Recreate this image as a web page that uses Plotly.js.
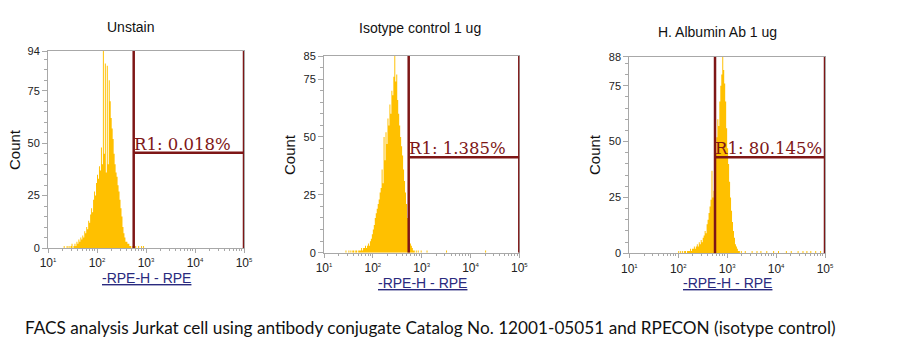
<!DOCTYPE html>
<html>
<head>
<meta charset="utf-8">
<script src="https://cdn.plot.ly/plotly-3.0.1.min.js"></script>
<style>
html,body{margin:0;padding:0;background:#fff;}
#chart{width:909px;height:361px;}
</style>
</head>
<body>
<div id="chart"></div>
<script>
// ---------- DATA ----------
const panelTitles = ['Unstain', 'Isotype control 1 ug', 'H. Albumin Ab 1 ug'];
const gateLabels = ['R1: 0.018%', 'R1: 1.385%', 'R1: 80.145%'];
const yMax = [94, 85, 88];
const yTickVals = [0, 25, 50, 75];
const xTickVals = [10, 100, 1000, 10000, 100000];
const xTickExp = ['1', '2', '3', '4', '5'];
const xAxisLabel = '-RPE-H - RPE';
const yAxisLabel = 'Count';
const caption = 'FACS analysis Jurkat cell using antibody conjugate Catalog No. 12001-05051 and RPECON (isotype control)';

// gate: lower bound, upper bound (RPE-H intensity) and marker height (count)
const gateLow = [561, 543, 565];
const gateHigh = [100000, 100000, 100000];
const gateY = [45.5, 41.2, 43];

// histogram channels: log10 bin width and starting log10 value per panel
const binStepLog = 0.02;
const p1StartLog = 1.30;
const p1Counts = [0,1,0,0,1,0,1,0,1,2, 0,1,2,1,3,2,4,3,5,4,
                  6,5,8,7,10,9,13,12,16,19, 17,23,27,25,31,35,33,39,37,48,
                  40,94,45,88,36,87,40,80,70,62, 57,52,45,40,36,34,30,27,23,19,
                  15,10,7,5,3,3,2,2,1,1, 0,1,0,0,1,0,0,1,0,0, 1];
const p1TailLog = [2.94];
const p1TailCounts = [1];

const p2StartLog = 1.40;
const p2Counts = [0,0,1,0,0,1,0,1,0,1, 1,0,1,1,0,1,1,1,2,1,
                  2,2,3,2,3,4,3,5,6,8, 10,12,15,17,19,21,23,26,28,36,
                  30,50,40,52,47,58,55,64,60,70, 68,76,85,74,77,66,60,55,50,46,
                  42,36,31,26,21,15,10,6,4,3, 2,1,1,0,1,0,1,0,0,1, 0];
const p2TailLog = [3.10, 3.50, 4.30];
const p2TailCounts = [1, 1, 1];

const p3StartLog = 2.00;
const p3Counts = [1,0,1,0,1,0,1,1,0,1, 1,1,2,1,2,2,3,2,3,4,
                  3,5,4,6,5,7,8,10,9,13, 15,18,21,24,37,25,28,34,45,52,
                  60,57,68,75,80,88,82,76,68,56, 47,40,32,25,19,14,10,7,4,3,
                  2,1,1,0,1,0];
const p3TailLog = [3.36, 3.50, 3.60, 3.68, 3.80, 3.94, 4.04, 4.20, 4.30, 4.44, 4.54, 4.62, 4.70, 4.80, 4.90];
const p3TailCounts = [1, 1, 1, 1, 1, 1, 1, 1, 1, 1, 1, 1, 1, 1, 1];

const panels = [
  {start: p1StartLog, counts: p1Counts, tailLog: p1TailLog, tailCounts: p1TailCounts},
  {start: p2StartLog, counts: p2Counts, tailLog: p2TailLog, tailCounts: p2TailCounts},
  {start: p3StartLog, counts: p3Counts, tailLog: p3TailLog, tailCounts: p3TailCounts}
];

// ---------- LAYOUT GEOMETRY (pixels in 909x361) ----------
const W = 909, H = 361;
const plotBoxes = [
  {x0: 48, x1: 244, y0: 51, y1: 248},
  {x0: 324, x1: 519.3, y0: 56, y1: 252.7},
  {x0: 629.3, x1: 825, y0: 56.7, y1: 253.3}
];
const titlePos = [{x: 130, y: 27}, {x: 420, y: 28}, {x: 717, y: 32}];
const countPos = [{x: 14, y: 150}, {x: 289, y: 155}, {x: 594, y: 155}];
const xlabPos = [{x: 146, y: 278}, {x: 422, y: 283}, {x: 727, y: 283}];

const gold = '#FFC000';
const gateColor = '#7E1616';
const axisGray = '#A8A8A8';

function buildHist(p) {
  const nBins = Math.round(4 / binStepLog);
  const grid = new Array(nBins).fill(0);
  const off = Math.round((p.start - 1) / binStepLog);
  p.counts.forEach((c, i) => { if (off + i < nBins) grid[off + i] = c; });
  p.tailLog.forEach((l, i) => {
    const k = Math.round((l - 1) / binStepLog);
    if (k < nBins) grid[k] = p.tailCounts[i];
  });
  const xs = [], ys = [];
  for (let k = 0; k < nBins; k++) {
    xs.push(Math.pow(10, 1 + k * binStepLog));
    ys.push(grid[k]);
  }
  xs.push(Math.pow(10, 5));
  ys.push(0);
  return {xs, ys};
}

const traces = [];
const layout = {
  width: W, height: H, autosize: false,
  margin: {l: 0, r: 0, t: 0, b: 0, pad: 0},
  paper_bgcolor: '#fff', plot_bgcolor: '#fff',
  showlegend: false,
  shapes: [], annotations: []
};

const minorVals = [];
for (let d = 1; d <= 4; d++) for (let m = 2; m <= 9; m++) minorVals.push(m * Math.pow(10, d));
const xTickText = xTickExp.map(e => '10<sup><span style="font-size:6px">' + e + '</span></sup>');

panels.forEach((p, i) => {
  const n = i + 1;
  const xa = 'xaxis' + (n === 1 ? '' : n);
  const ya = 'yaxis' + (n === 1 ? '' : n);
  const xr = 'x' + (n === 1 ? '' : n);
  const yr = 'y' + (n === 1 ? '' : n);
  const b = plotBoxes[i];
  const h = buildHist(p);
  traces.push({
    type: 'scatter', mode: 'lines', x: h.xs, y: h.ys,
    xaxis: xr, yaxis: yr,
    line: {shape: 'hv', width: 0, color: gold},
    fill: 'tozeroy', fillcolor: gold, hoverinfo: 'skip'
  });
  layout[xa] = {
    domain: [b.x0 / W, b.x1 / W], anchor: yr,
    type: 'log', range: [1, 5],
    tickmode: 'array', tickvals: xTickVals, ticktext: xTickText,
    ticks: 'outside', ticklen: 4, tickcolor: axisGray, tickwidth: 1,
    minor: {tickmode: 'array', tickvals: minorVals, ticks: 'outside', ticklen: 2, tickcolor: axisGray},
    showline: true, linecolor: axisGray, linewidth: 1, mirror: true,
    showgrid: false, zeroline: false,
    tickfont: {family: 'Liberation Sans, Arial, sans-serif', size: 12, color: '#222'},
    fixedrange: true
  };
  layout[ya] = {
    domain: [1 - b.y1 / H, 1 - b.y0 / H], anchor: xr,
    range: [0, yMax[i]],
    tickmode: 'array', tickvals: yTickVals.concat([yMax[i]]),
    ticktext: yTickVals.concat([yMax[i]]).map(String),
    ticks: 'outside', ticklen: 5, tickcolor: axisGray, tickwidth: 1,
    minor: {dtick: 5, ticks: 'outside', ticklen: 3, tickcolor: axisGray},
    showline: true, linecolor: axisGray, linewidth: 1, mirror: true,
    showgrid: false, zeroline: false,
    tickfont: {family: 'Liberation Sans, Arial, sans-serif', size: 11, color: '#222'},
    fixedrange: true
  };
  // gate
  const gs = {type: 'line', xref: xr, yref: yr, line: {color: gateColor, width: 2.5}};
  layout.shapes.push(Object.assign({}, gs, {x0: gateLow[i], x1: gateLow[i], y0: 0, y1: yMax[i]}));
  layout.shapes.push(Object.assign({}, gs, {x0: gateHigh[i], x1: gateHigh[i], y0: 0, y1: yMax[i]}));
  layout.shapes.push(Object.assign({}, gs, {x0: gateLow[i], x1: gateHigh[i], y0: gateY[i], y1: gateY[i]}));
  layout.annotations.push({
    xref: xr, yref: yr, x: Math.log10(gateLow[i]), y: gateY[i],
    xanchor: 'left', yanchor: 'bottom', showarrow: false, xshift: -2, yshift: -3,
    text: gateLabels[i],
    font: {family: 'DejaVu Serif, Georgia, serif', size: 16.5, color: gateColor}
  });
  // titles & labels
  layout.annotations.push({
    xref: 'paper', yref: 'paper', x: titlePos[i].x / W, y: 1 - titlePos[i].y / H,
    xanchor: 'center', yanchor: 'middle', showarrow: false, text: panelTitles[i],
    font: {family: 'Liberation Sans, Arial, sans-serif', size: 14, color: '#111'}
  });
  layout.annotations.push({
    xref: 'paper', yref: 'paper', x: countPos[i].x / W, y: 1 - countPos[i].y / H,
    xanchor: 'center', yanchor: 'middle', showarrow: false, text: yAxisLabel, textangle: -90,
    font: {family: 'Liberation Sans, Arial, sans-serif', size: 15, color: '#111'}
  });
  layout.annotations.push({
    xref: 'paper', yref: 'paper', x: xlabPos[i].x / W, y: 1 - xlabPos[i].y / H,
    xanchor: 'center', yanchor: 'middle', showarrow: false, text: xAxisLabel,
    font: {family: 'Liberation Sans, Arial, sans-serif', size: 14, color: '#2A2A7E', lineposition: 'under'}
  });
});

layout.annotations.push({
  xref: 'paper', yref: 'paper', x: 23 / W, y: 1 - 327 / H,
  xanchor: 'left', yanchor: 'middle', showarrow: false, text: caption,
  font: {family: 'Lato, Open Sans, sans-serif', size: 17.2, color: '#111'}
});

Plotly.newPlot('chart', traces, layout, {staticPlot: true, displayModeBar: false});
</script>
</body>
</html>
